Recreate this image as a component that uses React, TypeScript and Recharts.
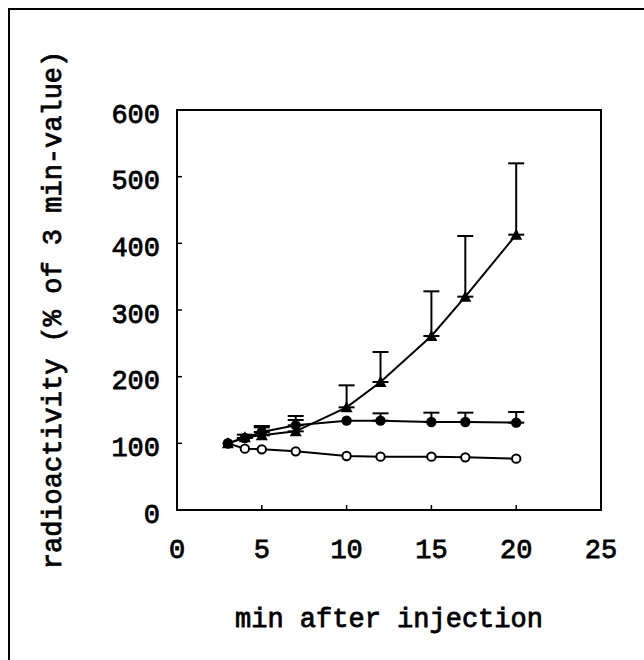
import { ErrorBar, Line, LineChart, ReferenceArea, XAxis, YAxis } from "recharts";

const FONT = "'Liberation Mono', 'Courier New', monospace";
const INK = "#000";

// minutes after injection
const MINUTES = [3, 4, 5, 7, 10, 12, 15, 17, 20];

// filled triangles (rising), upper error only
const TRIANGLE = [100, 109, 112, 118, 154, 192, 261, 320, 413];
const TRIANGLE_ERR = [null, null, 12, 17, 33, 45, 67, 91, 107];

// filled circles (plateau)
const FILLED = [100, 108, 117, 127, 134, 134, 132, 132, 131];
const FILLED_ERR = [null, 5, 9, 14, null, 11, 14, 14, 16];

// open circles (slow decline)
const OPEN = [100, 92, 91, 88, 81, 80, 80, 79, 77];

const X_TICKS = [0, 5, 10, 15, 20, 25];
const Y_TICKS = [0, 100, 200, 300, 400, 500, 600];

const data = MINUTES.map((t, i) => ({
  t,
  tri: TRIANGLE[i],
  triErr: TRIANGLE_ERR[i] == null ? undefined : [0, TRIANGLE_ERR[i]],
  dot: FILLED[i],
  dotErr: FILLED_ERR[i] == null ? undefined : [0, FILLED_ERR[i]],
  open: OPEN[i],
}));

// typewriter look: regular mono, thickened a little with a thin stroke
const TEXT_PROPS = {
  fill: INK,
  fontSize: 27,
  fontFamily: FONT,
  stroke: INK,
  strokeWidth: 0.8,
};

function TriangleDot(props: any) {
  const { cx, cy, index } = props;
  if (cx == null || cy == null) return <g key={`tri-${index}`} />;
  return (
    <path
      key={`tri-${index}`}
      d={`M${cx},${cy - 6} L${cx + 6},${cy + 5} L${cx - 6},${cy + 5} Z`}
      fill={INK}
    />
  );
}

function FilledDot(props: any) {
  const { cx, cy, index } = props;
  if (cx == null || cy == null) return <g key={`dot-${index}`} />;
  return <circle key={`dot-${index}`} cx={cx} cy={cy} r={5.2} fill={INK} />;
}

function OpenDot(props: any) {
  const { cx, cy, index } = props;
  if (cx == null || cy == null) return <g key={`open-${index}`} />;
  return <circle key={`open-${index}`} cx={cx} cy={cy} r={4.2} fill="#fff" stroke={INK} strokeWidth={2} />;
}

function YTitle({ viewBox }: any) {
  const cx = viewBox.x + 61;
  const cy = viewBox.y + viewBox.height / 2;
  return (
    <text x={cx} y={cy} transform={`rotate(-90 ${cx} ${cy})`} textAnchor="middle" {...TEXT_PROPS}>
      radioactivity (% of 3 min-value)
    </text>
  );
}

function XTitle({ viewBox }: any) {
  const cx = viewBox.x + viewBox.width / 2;
  return (
    <text x={cx} y={viewBox.y + 117} textAnchor="middle" {...TEXT_PROPS}>
      min after injection
    </text>
  );
}

export default function App() {
  return (
    <div
      style={{
        position: "absolute",
        left: 0,
        top: 0,
        width: 644,
        height: 660,
        overflow: "hidden",
        background: "#fff",
      }}
    >
      {/* outer figure frame, cut off at the right and bottom */}
      <div
        style={{
          position: "absolute",
          left: 8,
          top: 8,
          width: 700,
          height: 700,
          borderLeft: `2px solid ${INK}`,
          borderTop: `2px solid ${INK}`,
        }}
      />
      <LineChart
        width={644}
        height={660}
        data={data}
        margin={{ top: 110, right: 43, left: 0, bottom: 0 }}
        style={{ position: "absolute", left: 0, top: 0 }}
      >
        <XAxis
          dataKey="t"
          type="number"
          domain={[0, 25]}
          ticks={X_TICKS}
          height={150}
          axisLine={{ stroke: INK, strokeWidth: 2 }}
          tickLine={{ stroke: INK, strokeWidth: 1.5 }}
          tickSize={-5}
          tickMargin={34}
          tick={TEXT_PROPS}
          label={<XTitle />}
        />
        <YAxis
          type="number"
          domain={[0, 600]}
          ticks={Y_TICKS}
          width={177}
          axisLine={{ stroke: INK, strokeWidth: 2 }}
          tickLine={{ stroke: INK, strokeWidth: 1.5 }}
          tickSize={-5}
          tickMargin={22}
          tick={{ ...TEXT_PROPS, dy: 3 }}
          label={<YTitle />}
        />
        <ReferenceArea
          x1={0}
          x2={25}
          y1={0}
          y2={600}
          fill="none"
          stroke={INK}
          strokeWidth={2}
          ifOverflow="visible"
        />
        <Line
          dataKey="open"
          stroke={INK}
          strokeWidth={2}
          type="linear"
          dot={OpenDot}
          activeDot={false}
          isAnimationActive={false}
        />
        <Line
          dataKey="dot"
          stroke={INK}
          strokeWidth={2}
          type="linear"
          dot={FilledDot}
          activeDot={false}
          isAnimationActive={false}
        >
          <ErrorBar dataKey="dotErr" direction="y" width={8} stroke={INK} strokeWidth={2} isAnimationActive={false} />
        </Line>
        <Line
          dataKey="tri"
          stroke={INK}
          strokeWidth={2}
          type="linear"
          dot={TriangleDot}
          activeDot={false}
          isAnimationActive={false}
        >
          <ErrorBar dataKey="triErr" direction="y" width={8} stroke={INK} strokeWidth={2} isAnimationActive={false} />
        </Line>
      </LineChart>
    </div>
  );
}
